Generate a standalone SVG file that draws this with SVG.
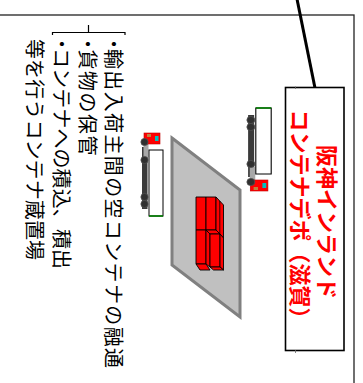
<svg xmlns="http://www.w3.org/2000/svg" xmlns:xlink="http://www.w3.org/1999/xlink" width="363" height="383" viewBox="0 0 363 383">
  <style>
    .frame { fill: none; stroke: #222; stroke-width: 1.3; }
    .lead { fill: none; stroke: #000; stroke-width: 3; }
    .box { fill: #fff; stroke: #000; stroke-width: 1.6; }
    .title { font-family: "Noto Sans CJK JP", "Noto Sans", sans-serif; font-weight: bold; font-size: 22px; fill: #ff0000; }
    .note { font-family: "Noto Sans CJK JP", "Noto Sans", sans-serif; font-size: 20px; fill: #000; }
    .brace { fill: none; stroke: #000; stroke-width: 1.2; }
    .pad { fill: #c0c0c0; stroke: #808080; stroke-width: 3; stroke-linejoin: miter; }
    .cnt { fill: #ff0000; stroke: #000; stroke-width: 0.9; stroke-linejoin: round; }
    .wheel { fill: #303030; stroke: #505050; stroke-width: 0.8; }
  </style>
  <defs>
    <!-- tractor-trailer seen from above, cab at the top -->
    <g id="truck">
      <rect x="1" y="14" width="5.5" height="62" fill="#3a3a3a"/>
      <rect x="2.5" y="10" width="5" height="14" fill="#a8a8a8"/>
      <rect x="8" y="17" width="14" height="66" fill="#fff" stroke="#000" stroke-width="1"/>
      <line x1="8" y1="83" x2="22" y2="83" stroke="#008000" stroke-width="1.6"/>
      <rect x="3" y="0" width="16" height="11" fill="#ff0000" stroke="#c00000" stroke-width="0.6"/>
      <rect x="14" y="3" width="3.5" height="5" fill="#00c0c0"/>
      <rect x="6" y="1" width="4" height="3" fill="#c08040"/>
      <circle class="wheel" cx="3.5" cy="9" r="3.6"/>
      <circle class="wheel" cx="3.5" cy="27" r="3.6"/>
      <circle class="wheel" cx="3.5" cy="64" r="3.6"/>
      <circle class="wheel" cx="3.5" cy="71" r="3.6"/>
    </g>
  </defs>

  <!-- outer frame and leader line -->
  <g id="frame">
    <rect class="frame" x="-10" y="15" width="364" height="400"/>
  </g>
  <g id="connectors">
    <line class="lead" x1="297" y1="-1" x2="315" y2="88"/>
  </g>

  <!-- name box -->
  <g id="depot-name">
    <rect class="box" x="285.5" y="87.5" width="58.5" height="263"/>
    <line x1="295.5" y1="86.5" x2="295.5" y2="89" stroke="#666" stroke-width="0.8"/>
    <line x1="295.5" y1="350" x2="295.5" y2="353" stroke="#666" stroke-width="0.8"/>
    <text class="title" transform="translate(319,222) rotate(90)" text-anchor="middle">阪神インランド</text>
    <text class="title" transform="translate(292,219.5) rotate(90)" text-anchor="middle">コンテナデポ（滋賀）</text>
  </g>

  <!-- functions list -->
  <g id="functions">
    <path class="brace" d="M52.5,35 V32.5 H125 V35 M88.5,32.5 V25"/>
    <text class="note" transform="translate(105.6,0) rotate(90)"><tspan x="34">・</tspan><tspan x="49" textLength="319" lengthAdjust="spacing">輸出入荷主間の空コンテナの融通</tspan></text>
    <text class="note" transform="translate(80,0) rotate(90)"><tspan x="34">・</tspan><tspan x="49.5" textLength="106" lengthAdjust="spacing">貨物の保管</tspan></text>
    <text class="note" transform="translate(54,0) rotate(90)"><tspan x="34">・</tspan><tspan x="48" textLength="221" lengthAdjust="spacing">コンテナへの積込、積出</tspan></text>
    <text class="note" transform="translate(27,39) rotate(90)" textLength="221" lengthAdjust="spacing">等を行うコンテナ蔵置場</text>
  </g>

  <!-- container yard -->
  <g id="yard">
    <polygon class="pad" points="172,138 240,190 240,317 172,265"/>
    <!-- stacked containers -->
    <rect class="cnt" x="196" y="197" width="10" height="33"/>
    <rect class="cnt" x="206" y="197" width="10" height="33"/>
    <polygon class="cnt" points="216,197 223.5,205 223.5,238 216,230"/>
    <line x1="219.8" y1="201" x2="219.8" y2="234" stroke="#000" stroke-width="0.8"/>
    <rect class="cnt" x="196" y="230" width="10" height="34"/>
    <polygon class="cnt" points="206,230 210,234 210,267 206,264"/>
    <polygon class="cnt" points="206,230 216,230 220,234 210,234"/>
    <rect class="cnt" x="210" y="234" width="10" height="33"/>
    <polygon class="cnt" points="220,234 223.5,238 223.5,270 220,267"/>
    <polygon class="cnt" points="196,264 206,264 210,270 200,270"/>
    <polygon class="cnt" points="210,267 220,267 223.5,270 213.5,270"/>
  </g>

  <!-- trucks -->
  <g id="truck-left">
    <use xlink:href="#truck" transform="translate(141,133)"/>
  </g>
  <g id="truck-right">
    <use xlink:href="#truck" transform="translate(247,191) scale(1.1,-1)"/>
  </g>
</svg>
